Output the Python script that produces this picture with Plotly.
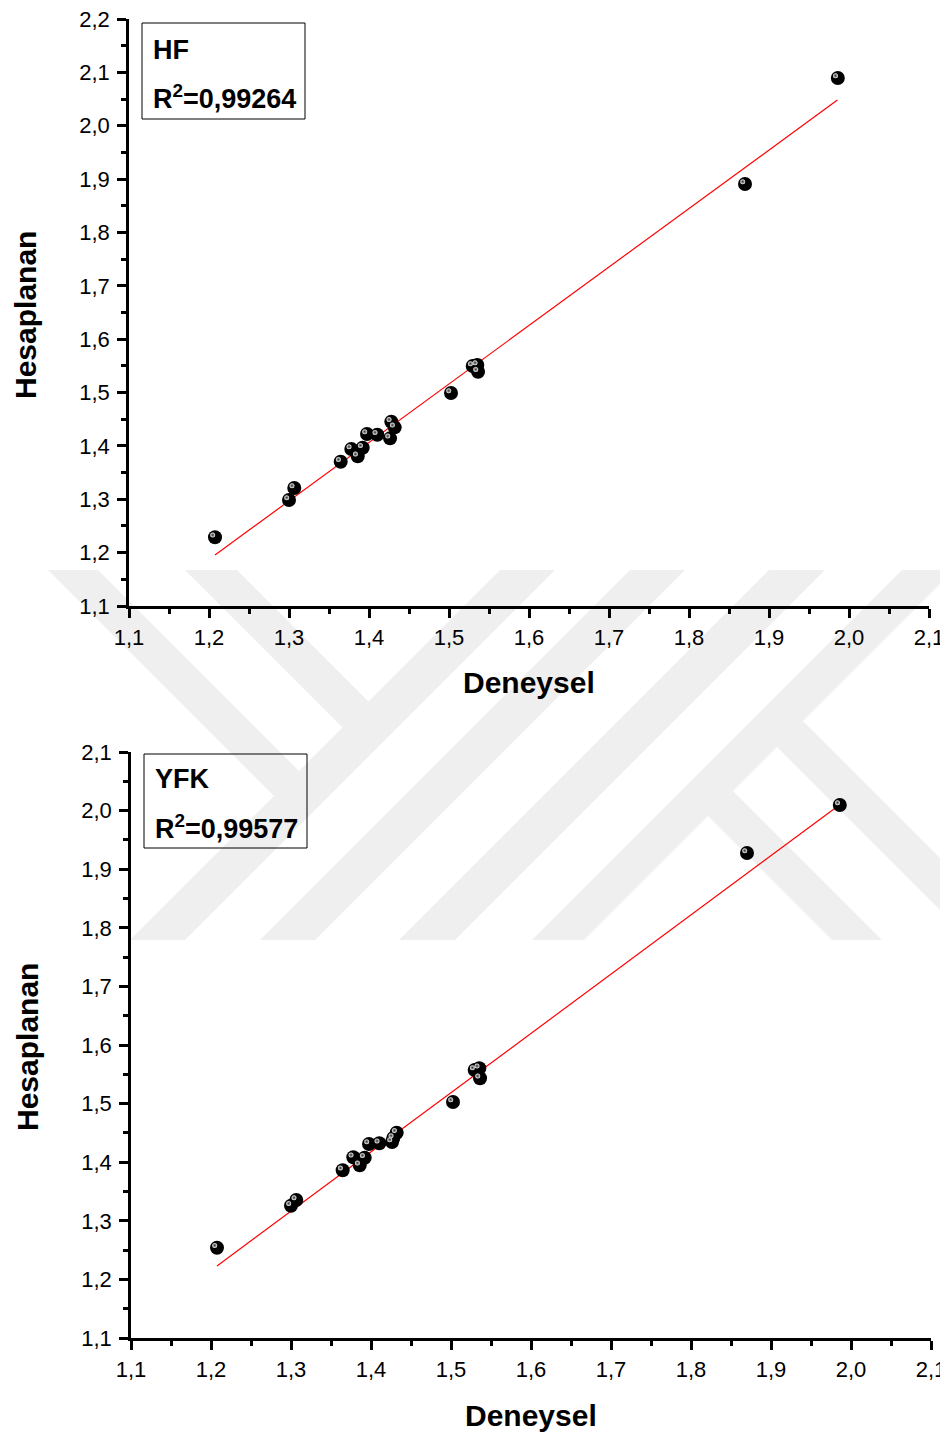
import plotly.graph_objects as go

# ---------------- data ----------------
deneysel = [1.2075, 1.3000, 1.3066, 1.3646, 1.3779, 1.3859, 1.3921, 1.3975, 1.4104,
            1.4263, 1.4279, 1.4321, 1.5025, 1.5296, 1.5354, 1.5363, 1.8700, 1.9860]
hf_hesaplanan = [1.2287, 1.2986, 1.3211, 1.3703, 1.3942, 1.3805, 1.3966, 1.4223, 1.4210,
                 1.4142, 1.4453, 1.4348, 1.4991, 1.5497, 1.5516, 1.5390, 1.8908, 2.0894]
yfk_hesaplanan = [1.2541, 1.3258, 1.3355, 1.3862, 1.4084, 1.3947, 1.4077, 1.4311, 1.4323,
                  1.4345, 1.4413, 1.4503, 1.5027, 1.5573, 1.5602, 1.5432, 1.9276, 2.0096]

fit_x = [1.2075, 1.9855]
hf_fit_y = [1.1955, 2.0482]
yfk_fit_y = [1.2229, 2.0096]

x_ticks = [1.1, 1.2, 1.3, 1.4, 1.5, 1.6, 1.7, 1.8, 1.9, 2.0, 2.1]
x_tick_labels = ["1,1", "1,2", "1,3", "1,4", "1,5", "1,6", "1,7", "1,8", "1,9", "2,0", "2,1"]
hf_y_ticks = [1.1, 1.2, 1.3, 1.4, 1.5, 1.6, 1.7, 1.8, 1.9, 2.0, 2.1, 2.2]
hf_y_tick_labels = ["1,1", "1,2", "1,3", "1,4", "1,5", "1,6", "1,7", "1,8", "1,9", "2,0", "2,1", "2,2"]
yfk_y_ticks = [1.1, 1.2, 1.3, 1.4, 1.5, 1.6, 1.7, 1.8, 1.9, 2.0, 2.1]
yfk_y_tick_labels = ["1,1", "1,2", "1,3", "1,4", "1,5", "1,6", "1,7", "1,8", "1,9", "2,0", "2,1"]

hf_label = "HF"
hf_r2 = "0,99264"
yfk_label = "YFK"
yfk_r2 = "0,99577"
x_title = "Deneysel"
y_title = "Hesaplanan"

# ---------------- layout geometry ----------------
PAGE_W, PAGE_H = 948, 1437
OFF = 8  # default body margin of the html page
W, H = PAGE_W - OFF, PAGE_H - OFF
FONT = "Liberation Sans, Arial, Helvetica, sans-serif"
EPS = 1e-6


def px(x):
    return (x - OFF) / W


def py(y):
    return 1 - (y - OFF) / H


panels = [
    dict(xd=(129, 929), yd=(19, 606), xr=(1.1, 2.1), yr=(1.1, 2.2),
         yt=hf_y_ticks, ytl=hf_y_tick_labels, yvals=hf_hesaplanan, fit=hf_fit_y,
         box=(142, 23, 305, 119), l1=hf_label, r2=hf_r2, l1y=50, l2y=97,
         ytitle=(25, 315), xtitle=(529, 683)),
    dict(xd=(131, 931), yd=(752, 1338), xr=(1.1, 2.1), yr=(1.1, 2.1),
         yt=yfk_y_ticks, ytl=yfk_y_tick_labels, yvals=yfk_hesaplanan, fit=yfk_fit_y,
         box=(144, 754, 307, 848), l1=yfk_label, r2=yfk_r2, l1y=779, l2y=827,
         ytitle=(27, 1047), xtitle=(531, 1415)),
]

fig = go.Figure()
shapes = []
annotations = []

# ---------------- watermark (light grey diagonal bands) ----------------
wm_color = "#efefef"
YT, YB = 570, 940


def poly(points):
    d = "M " + " L ".join(f"{px(a):.5f},{py(b):.5f}" for a, b in points) + " Z"
    return dict(type="path", path=d, xref="paper", yref="paper",
                fillcolor=wm_color, line=dict(width=0), layer="below")


# "/" bands: x + y in [s1, s2]
for s1, s2 in [(1070, 1125), (1200, 1255), (1339, 1395), (1472, 1524)]:
    shapes.append(poly([(s1 - YT, YT), (s2 - YT, YT), (s2 - YB, YB), (s1 - YB, YB)]))
# "\" bands from top ending on band x+y=1070
for d1, d2 in [(-522, -472), (-385, -333)]:
    s = 1070
    shapes.append(poly([(d1 + YT, YT), (d2 + YT, YT),
                        ((d2 + s) / 2, (s - d2) / 2), ((d1 + s) / 2, (s - d1) / 2)]))
# "\" bands starting from band x+y=1524 going down
for d1, d2 in [(-108, -58), (30, 82)]:
    s = 1524
    shapes.append(poly([((d1 + s) / 2, (s - d1) / 2), ((d2 + s) / 2, (s - d2) / 2),
                        (d2 + YB, YB), (d1 + YB, YB)]))

# ---------------- panels ----------------
for i, p in enumerate(panels, start=1):
    xa = "x" if i == 1 else f"x{i}"
    ya = "y" if i == 1 else f"y{i}"
    # pixel -> data scale for the highlight offset of the spheres
    sx = (p["xr"][1] - p["xr"][0]) / (p["xd"][1] - p["xd"][0])
    sy = (p["yr"][1] - p["yr"][0]) / (p["yd"][1] - p["yd"][0])

    fig.add_trace(go.Scatter(x=fit_x, y=p["fit"], mode="lines",
                             line=dict(color="#ff0000", width=1.2),
                             xaxis=xa, yaxis=ya, showlegend=False, hoverinfo="skip"))
    fig.add_trace(go.Scatter(x=deneysel, y=p["yvals"], mode="markers",
                             marker=dict(size=14, color="#000000", line=dict(width=0)),
                             xaxis=xa, yaxis=ya, showlegend=False))
    fig.add_trace(go.Scatter(x=[v - 2.3 * sx for v in deneysel],
                             y=[v + 2.3 * sy for v in p["yvals"]], mode="markers",
                             marker=dict(size=5, color="#eeeeee", line=dict(width=0),
                                         gradient=dict(type="radial", color="#2a2a2a")),
                             xaxis=xa, yaxis=ya, showlegend=False, hoverinfo="skip"))

    common = dict(showline=True, linecolor="black", linewidth=2.5, mirror=False,
                  showgrid=False, zeroline=False, ticks="outside", ticklen=9,
                  tickwidth=2.5, tickcolor="black", ticklabeloverflow="allow",
                  tickfont=dict(family=FONT, size=22, color="black"),
                  fixedrange=True)
    fig.layout[f"xaxis{'' if i == 1 else i}"] = dict(
        common, domain=[px(p["xd"][0]), px(p["xd"][1])],
        range=[p["xr"][0] - EPS, p["xr"][1] + EPS],
        anchor=ya, tickmode="array", tickvals=x_ticks, ticktext=x_tick_labels,
        ticklabelstandoff=1,
        minor=dict(ticks="outside", ticklen=5, tickwidth=2.5, tickcolor="black",
                   tickmode="linear", tick0=1.15, dtick=0.1))
    fig.layout[f"yaxis{'' if i == 1 else i}"] = dict(
        common, domain=[py(p["yd"][1]), py(p["yd"][0])],
        range=[p["yr"][0] - EPS, p["yr"][1] + EPS],
        anchor=xa, tickmode="array", tickvals=p["yt"], ticktext=p["ytl"],
        ticklabelstandoff=3,
        minor=dict(ticks="outside", ticklen=5, tickwidth=2.5, tickcolor="black",
                   tickmode="linear", tick0=1.15, dtick=0.1))

    # box with label and R^2
    bx0, by0, bx1, by1 = p["box"]
    shapes.append(dict(type="rect", xref="paper", yref="paper",
                       x0=px(bx0), x1=px(bx1), y0=py(by1), y1=py(by0),
                       line=dict(color="black", width=1), fillcolor="rgba(0,0,0,0)",
                       layer="above"))
    annotations.append(dict(x=px(bx0 + 9), y=py(p["l1y"]), xref="paper", yref="paper",
                            xanchor="left", yanchor="middle", showarrow=False,
                            text=f"<b>{p['l1']}</b>",
                            font=dict(family=FONT, size=27, color="black")))
    annotations.append(dict(x=px(bx0 + 9), y=py(p["l2y"]), xref="paper", yref="paper",
                            xanchor="left", yanchor="middle", showarrow=False,
                            text=f"<b>R<sup>2</sup>={p['r2']}</b>",
                            font=dict(family=FONT, size=27, color="black")))
    # axis titles
    annotations.append(dict(x=px(p["ytitle"][0]), y=py(p["ytitle"][1]),
                            xref="paper", yref="paper", xanchor="center", yanchor="middle",
                            showarrow=False, textangle=-90, text=f"<b>{y_title}</b>",
                            font=dict(family=FONT, size=30, color="black")))
    annotations.append(dict(x=px(p["xtitle"][0]), y=py(p["xtitle"][1]),
                            xref="paper", yref="paper", xanchor="center", yanchor="middle",
                            showarrow=False, text=f"<b>{x_title}</b>",
                            font=dict(family=FONT, size=30, color="black")))

fig.update_layout(width=W, height=H, margin=dict(l=0, r=0, t=0, b=0, autoexpand=False),
                  paper_bgcolor="white", plot_bgcolor="rgba(0,0,0,0)",
                  showlegend=False, shapes=shapes, annotations=annotations,
                  font=dict(family=FONT, color="black"))

fig.write_html("out.html", include_plotlyjs=True)
